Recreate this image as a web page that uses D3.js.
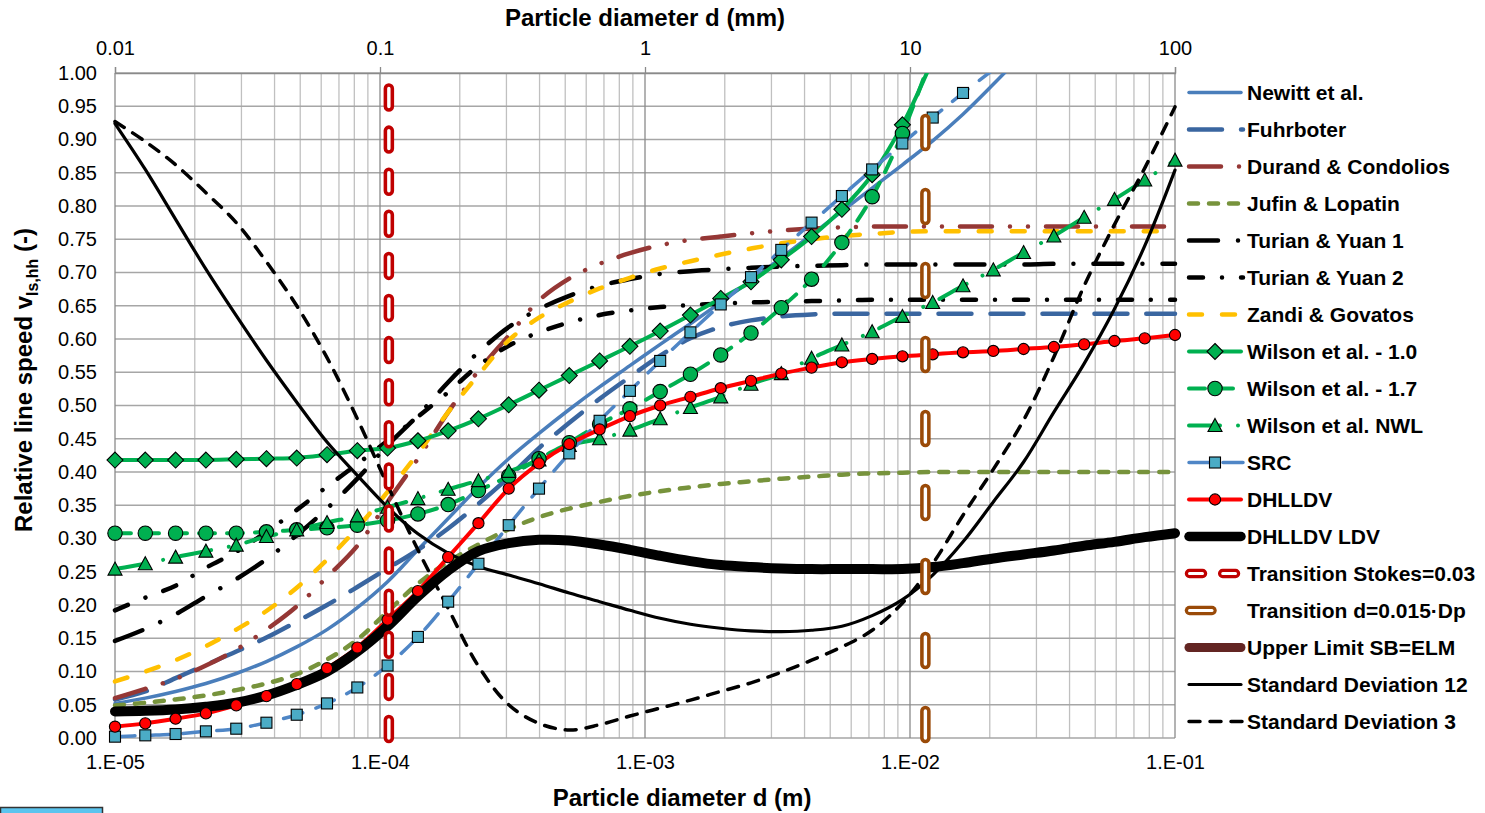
<!DOCTYPE html>
<html>
<head>
<meta charset="utf-8">
<script src="https://cdn.jsdelivr.net/npm/d3@7/dist/d3.min.js"></script>
<style>
html,body{margin:0;padding:0;background:#fff;}
svg{display:block;}
text{font-family:"Liberation Sans",Arial,Helvetica,sans-serif;}
</style>
</head>
<body>
<svg id="chart" width="1485" height="813"></svg>
<script>
// ---------------- DATA ----------------
const diameters = [1.000e-5, 1.301e-5, 1.693e-5, 2.203e-5, 2.868e-5, 3.728e-5, 4.851e-5, 6.310e-5, 8.211e-5,
  1.068e-4, 1.390e-4, 1.808e-4, 2.352e-4, 3.060e-4, 3.981e-4, 5.179e-4, 6.740e-4, 8.770e-4,
  1.141e-3, 1.484e-3, 1.931e-3, 2.512e-3, 3.268e-3, 4.252e-3, 5.533e-3, 7.197e-3, 9.363e-3,
  1.218e-2, 1.585e-2, 2.062e-2, 2.683e-2, 3.491e-2, 4.541e-2, 5.909e-2, 7.687e-2, 1.000e-1];

const newitt = [0.052, 0.060, 0.070, 0.082, 0.097, 0.115, 0.137, 0.163, 0.196, 0.235, 0.283, 0.330, 0.377, 0.420, 0.458, 0.494, 0.528, 0.560, 0.592, 0.623, 0.655, 0.688, 0.722, 0.757, 0.792, 0.827, 0.862, 0.898, 0.938, 0.983, 1.030];
const fuhrboter = [0.058, 0.070, 0.090, 0.110, 0.130, 0.151, 0.175, 0.200, 0.227, 0.255, 0.283, 0.315, 0.352, 0.392, 0.436, 0.474, 0.510, 0.543, 0.575, 0.601, 0.618, 0.628, 0.634, 0.637, 0.638, 0.638, 0.638, 0.638, 0.638, 0.638, 0.638, 0.638, 0.638, 0.638, 0.638, 0.638];
const durand = [0.060, 0.074, 0.089, 0.109, 0.133, 0.163, 0.198, 0.242, 0.289, 0.355, 0.420, 0.490, 0.552, 0.605, 0.658, 0.691, 0.713, 0.729, 0.741, 0.749, 0.754, 0.759, 0.763, 0.766, 0.768, 0.769, 0.769, 0.769, 0.769, 0.769, 0.769, 0.769, 0.769, 0.769, 0.769, 0.769];
const jufin = [0.049, 0.053, 0.058, 0.064, 0.072, 0.082, 0.096, 0.118, 0.148, 0.190, 0.232, 0.265, 0.291, 0.314, 0.332, 0.345, 0.355, 0.364, 0.371, 0.377, 0.382, 0.386, 0.390, 0.393, 0.396, 0.398, 0.399, 0.400, 0.400, 0.400, 0.400, 0.400, 0.400, 0.400, 0.400, 0.400];
const turian1 = [0.146, 0.164, 0.186, 0.213, 0.239, 0.269, 0.305, 0.345, 0.390, 0.440, 0.485, 0.535, 0.580, 0.618, 0.645, 0.665, 0.680, 0.690, 0.698, 0.702, 0.705, 0.707, 0.709, 0.710, 0.711, 0.712, 0.712, 0.712, 0.712, 0.712, 0.712, 0.713, 0.713, 0.713, 0.713, 0.713];
const turian2 = [0.192, 0.211, 0.229, 0.256, 0.280, 0.310, 0.343, 0.378, 0.412, 0.447, 0.483, 0.520, 0.560, 0.590, 0.610, 0.625, 0.636, 0.643, 0.648, 0.651, 0.653, 0.655, 0.656, 0.657, 0.658, 0.659, 0.659, 0.659, 0.659, 0.659, 0.659, 0.659, 0.659, 0.659, 0.659, 0.659];
const zandi = [0.085, 0.100, 0.117, 0.138, 0.163, 0.191, 0.226, 0.268, 0.316, 0.370, 0.428, 0.490, 0.546, 0.598, 0.632, 0.656, 0.676, 0.692, 0.706, 0.717, 0.727, 0.736, 0.744, 0.750, 0.755, 0.758, 0.761, 0.762, 0.762, 0.762, 0.762, 0.762, 0.762, 0.762, 0.762, 0.762];
const wilson10 = [0.418, 0.418, 0.418, 0.418, 0.419, 0.420, 0.421, 0.426, 0.432, 0.436, 0.447, 0.462, 0.480, 0.501, 0.523, 0.545, 0.567, 0.589, 0.612, 0.636, 0.661, 0.686, 0.719, 0.754, 0.795, 0.847, 0.922, 1.020];
const wilson17 = [0.308, 0.308, 0.308, 0.308, 0.308, 0.310, 0.313, 0.316, 0.320, 0.327, 0.337, 0.351, 0.372, 0.394, 0.420, 0.444, 0.472, 0.495, 0.521, 0.547, 0.576, 0.609, 0.647, 0.690, 0.745, 0.814, 0.909, 1.030];
const wilsonNWL = [0.254, 0.262, 0.272, 0.281, 0.290, 0.303, 0.313, 0.324, 0.334, 0.347, 0.360, 0.374, 0.387, 0.401, 0.418, 0.440, 0.450, 0.463, 0.480, 0.497, 0.513, 0.532, 0.548, 0.571, 0.591, 0.611, 0.634, 0.655, 0.680, 0.704, 0.730, 0.755, 0.783, 0.810, 0.839, 0.869];
const src = [0.002, 0.004, 0.006, 0.010, 0.014, 0.023, 0.035, 0.052, 0.076, 0.109, 0.152, 0.205, 0.262, 0.320, 0.375, 0.428, 0.477, 0.522, 0.567, 0.610, 0.652, 0.693, 0.734, 0.775, 0.815, 0.855, 0.894, 0.933, 0.970, 1.005];
const dhlldv = [0.017, 0.022, 0.029, 0.037, 0.049, 0.063, 0.081, 0.105, 0.136, 0.178, 0.221, 0.272, 0.323, 0.375, 0.413, 0.442, 0.464, 0.484, 0.500, 0.513, 0.526, 0.537, 0.548, 0.557, 0.565, 0.570, 0.574, 0.577, 0.580, 0.582, 0.585, 0.588, 0.592, 0.597, 0.601, 0.606];
const dhlldvLDV = [0.040, 0.041, 0.043, 0.047, 0.053, 0.064, 0.080, 0.100, 0.130, 0.168, 0.213, 0.252, 0.281, 0.293, 0.298, 0.297, 0.291, 0.283, 0.274, 0.266, 0.260, 0.257, 0.255, 0.254, 0.254, 0.254, 0.254, 0.257, 0.263, 0.270, 0.276, 0.282, 0.289, 0.295, 0.302, 0.308];
const stdDev12 = [0.924, 0.855, 0.780, 0.705, 0.635, 0.568, 0.505, 0.445, 0.395, 0.347, 0.307, 0.278, 0.258, 0.245, 0.232, 0.218, 0.205, 0.192, 0.180, 0.171, 0.165, 0.161, 0.160, 0.162, 0.168, 0.184, 0.208, 0.245, 0.295, 0.355, 0.415, 0.490, 0.563, 0.645, 0.740, 0.854];
const stdDev3 = [0.927, 0.897, 0.862, 0.820, 0.775, 0.716, 0.650, 0.572, 0.480, 0.380, 0.283, 0.195, 0.108, 0.050, 0.022, 0.012, 0.020, 0.033, 0.045, 0.057, 0.070, 0.083, 0.099, 0.117, 0.137, 0.162, 0.203, 0.262, 0.335, 0.404, 0.478, 0.573, 0.680, 0.772, 0.857, 0.949];
const transitionStokes = 1.08e-4;   // m
const transitionDp = 1.143e-2;      // m  (0.015*Dp)

const yTicks = [0.00, 0.05, 0.10, 0.15, 0.20, 0.25, 0.30, 0.35, 0.40, 0.45, 0.50, 0.55, 0.60, 0.65, 0.70, 0.75, 0.80, 0.85, 0.90, 0.95, 1.00];
const bottomTicks = [1e-5, 1e-4, 1e-3, 1e-2, 1e-1];
const bottomLabels = ["1.E-05", "1.E-04", "1.E-03", "1.E-02", "1.E-01"];
const topTicks = [0.01, 0.1, 1, 10, 100];
const topLabels = ["0.01", "0.1", "1", "10", "100"];

// ---------------- SETUP ----------------
const svg = d3.select("#chart");
const L = 115, R = 1175, T = 73, B = 738;
const x = d3.scaleLog().domain([1e-5, 1e-1]).range([L, R]);
const xTop = d3.scaleLog().domain([0.01, 100]).range([L, R]);
const y = d3.scaleLinear().domain([0, 1]).range([B, T]);

svg.append("rect").attr("width", 1485).attr("height", 813).attr("fill", "#fff");

const defs = svg.append("defs");
defs.append("clipPath").attr("id", "plotclip").append("rect")
  .attr("x", L - 6).attr("y", T).attr("width", R - L + 12).attr("height", B - T + 8);

// grid
const gridG = svg.append("g");
const minorX = [];
for (let e = -5; e <= -2; e++) for (let k = 2; k <= 9; k++) minorX.push(k * Math.pow(10, e));
gridG.selectAll(".vminor").data(minorX).enter().append("line")
  .attr("x1", d => x(d)).attr("x2", d => x(d)).attr("y1", T).attr("y2", B)
  .attr("stroke", "#C0C0C0").attr("stroke-width", 1.3);
gridG.selectAll(".hgrid").data(yTicks).enter().append("line")
  .attr("x1", L).attr("x2", R).attr("y1", d => y(d)).attr("y2", d => y(d))
  .attr("stroke", "#A6A6A6").attr("stroke-width", 1.3);
gridG.selectAll(".vmajor").data(bottomTicks).enter().append("line")
  .attr("x1", d => x(d)).attr("x2", d => x(d)).attr("y1", T).attr("y2", B)
  .attr("stroke", "#8A8A8A").attr("stroke-width", 1.3);

// axes
const yAxis = svg.append("g").attr("transform", `translate(${L},0)`)
  .call(d3.axisLeft(y).tickValues(yTicks).tickFormat(d3.format(".2f")).tickSize(0).tickPadding(18));
yAxis.select(".domain").remove();
yAxis.selectAll("text").attr("font-size", 20).attr("fill", "#000");

const bAxis = svg.append("g").attr("transform", `translate(0,${B})`)
  .call(d3.axisBottom(x).tickValues(bottomTicks).tickFormat((d, i) => bottomLabels[i]).tickSize(0).tickPadding(17));
bAxis.select(".domain").remove();
bAxis.selectAll("text").attr("font-size", 20).attr("fill", "#000");

const tAxis = svg.append("g").attr("transform", `translate(0,${T})`)
  .call(d3.axisTop(xTop).tickValues(topTicks).tickFormat((d, i) => topLabels[i]).tickSize(6).tickPadding(12));
tAxis.select(".domain").attr("stroke", "#8A8A8A").attr("stroke-width", 1.3);
tAxis.selectAll("line").attr("stroke", "#8A8A8A").attr("stroke-width", 1.3);
tAxis.selectAll("text").attr("font-size", 20).attr("fill", "#000");

// titles
svg.append("text").attr("x", 645).attr("y", 26).attr("text-anchor", "middle")
  .attr("font-size", 24).attr("font-weight", "bold").text("Particle diameter d (mm)");
svg.append("text").attr("x", 682).attr("y", 806).attr("text-anchor", "middle")
  .attr("font-size", 24).attr("font-weight", "bold").text("Particle diameter d (m)");
const yt = svg.append("text").attr("transform", "translate(32,380) rotate(-90)")
  .attr("text-anchor", "middle").attr("font-size", 24).attr("font-weight", "bold");
yt.append("tspan").text("Relative line speed v");
yt.append("tspan").attr("font-size", 16).attr("dy", 6).text("ls,hh");
yt.append("tspan").attr("dy", -6).text(" (-)");

// ---------------- SERIES ----------------
const GREEN = "#00B050";
const series = [
  {name: "Newitt et al.", vals: newitt, color: "#4A7EBB", w: 3.5, dash: null},
  {name: "Fuhrboter", vals: fuhrboter, color: "#3A66A0", w: 4.5, dash: "33,19"},
  {name: "Durand & Condolios", vals: durand, color: "#953735", w: 4.5, dash: "32,18,0.01,18,0.01,18"},
  {name: "Jufin & Lopatin", vals: jufin, color: "#77933C", w: 4.5, dash: "9,11"},
  {name: "Turian & Yuan 1", vals: turian1, color: "#000", w: 4.5, dash: "29,20,0.01,20"},
  {name: "Turian & Yuan 2", vals: turian2, color: "#000", w: 4.5, dash: "14,19,0.01,19"},
  {name: "Zandi & Govatos", vals: zandi, color: "#FFC000", w: 4.5, dash: "13,20"},
  {name: "Wilson et al. - 1.0", vals: wilson10, color: GREEN, w: 4, dash: null, marker: "diamond", mfill: GREEN},
  {name: "Wilson et al. - 1.7", vals: wilson17, color: GREEN, w: 4, dash: "16,12", marker: "circle", mfill: GREEN},
  {name: "Wilson et al. NWL", vals: wilsonNWL, color: GREEN, w: 4, dash: "31,18,0.01,18", marker: "triangle", mfill: GREEN},
  {name: "SRC", vals: src, color: "#4F86C6", w: 3.5, dash: "20,14", marker: "square", mfill: "#4BACC6"},
  {name: "DHLLDV", vals: dhlldv, color: "#FF0000", w: 4, dash: null, marker: "dot", mfill: "#FF0000"},
  {name: "DHLLDV LDV", vals: dhlldvLDV, color: "#000", w: 10, dash: null}
];

const line = d3.line().x(d => x(d[0])).y(d => y(d[1])).curve(d3.curveCatmullRom.alpha(0.5));
const plotG = svg.append("g").attr("clip-path", "url(#plotclip)");

function drawMarker(g, type, cx, cy, fill) {
  let el;
  if (type === "diamond") {
    el = g.append("path").attr("d", `M${cx},${cy - 8}L${cx + 8},${cy}L${cx},${cy + 8}L${cx - 8},${cy}Z`);
  } else if (type === "circle") {
    el = g.append("circle").attr("cx", cx).attr("cy", cy).attr("r", 7.2);
  } else if (type === "triangle") {
    el = g.append("path").attr("d", `M${cx},${cy - 7}L${cx + 7},${cy + 6}L${cx - 7},${cy + 6}Z`);
  } else if (type === "square") {
    el = g.append("rect").attr("x", cx - 5.5).attr("y", cy - 5.5).attr("width", 11).attr("height", 11);
  } else if (type === "dot") {
    el = g.append("circle").attr("cx", cx).attr("cy", cy).attr("r", 5.6);
  }
  el.attr("fill", fill).attr("stroke", "#000").attr("stroke-width", 1.1);
}

function drawSeries(s) {
  const pts = s.vals.map((v, i) => [diameters[i], v]);
  const p = plotG.append("path").attr("d", line(pts)).attr("fill", "none")
    .attr("stroke", s.color).attr("stroke-width", s.w)
    .attr("stroke-linecap", "round").attr("stroke-linejoin", "round");
  if (s.dash) p.attr("stroke-dasharray", s.dash);
  if (s.marker) {
    const mg = svg.append("g");
    pts.filter(d => d[1] <= 1.0).forEach(d => drawMarker(mg, s.marker, x(d[0]), y(d[1]), s.mfill));
  }
}
series.forEach(drawSeries);

// transition lines (double line style)
function drawTransition(d, color, dash) {
  const g = svg.append("g");
  g.append("line").attr("x1", x(d)).attr("x2", x(d)).attr("y1", y(0)).attr("y2", y(1))
    .attr("stroke", color).attr("stroke-width", 10.5).attr("stroke-linecap", "round").attr("stroke-dasharray", dash);
  g.append("line").attr("x1", x(d)).attr("x2", x(d)).attr("y1", y(0)).attr("y2", y(1))
    .attr("stroke", "#fff").attr("stroke-width", 3.4).attr("stroke-linecap", "round").attr("stroke-dasharray", dash);
}
drawTransition(transitionStokes, "#C00000", "18,24.1");
drawTransition(transitionDp, "#9A4A08", "27,47");

// standard deviations
[{vals: stdDev12, w: 3.2, dash: null}, {vals: stdDev3, w: 3.5, dash: "11,10"}].forEach(s => {
  const pts = s.vals.map((v, i) => [diameters[i], v]);
  const p = plotG.append("path").attr("d", line(pts)).attr("fill", "none")
    .attr("stroke", "#000").attr("stroke-width", s.w).attr("stroke-linecap", "round");
  if (s.dash) p.attr("stroke-dasharray", s.dash);
});

// ---------------- LEGEND ----------------
const legendItems = [
  ...series.map(s => ({name: s.name, kind: "line", color: s.color, w: s.w, dash: s.dash, marker: s.marker, mfill: s.mfill})),
  {name: "Transition Stokes=0.03", kind: "trans", color: "#C00000", dash: "13,20.2", x2: 1235.5},
  {name: "Transition d=0.015\u00B7Dp", kind: "trans", color: "#9A4A08", dash: null, x2: 1212},
  {name: "Upper Limit SB=ELM", kind: "line", color: "#632523", w: 9, dash: null},
  {name: "Standard Deviation 12", kind: "line", color: "#000", w: 3.2, dash: null},
  {name: "Standard Deviation 3", kind: "line", color: "#000", w: 3.5, dash: "11,10"}
];
const lg = svg.append("g");
legendItems.forEach((it, i) => {
  const cy = 92.5 + i * 37;
  if (it.kind === "line") {
    const ln = lg.append("line").attr("x1", 1189).attr("x2", it.dash ? 1243 : 1241).attr("y1", cy).attr("y2", cy)
      .attr("stroke", it.color).attr("stroke-width", Math.min(it.w, 9.5)).attr("stroke-linecap", "round");
    if (it.dash) ln.attr("stroke-dasharray", it.dash);
    if (it.marker) drawMarker(lg, it.marker, 1215, cy, it.mfill);
  } else {
    const a = lg.append("line").attr("x1", 1189.5).attr("x2", it.x2).attr("y1", cy).attr("y2", cy)
      .attr("stroke", it.color).attr("stroke-width", 9.5).attr("stroke-linecap", "round");
    const b = lg.append("line").attr("x1", 1189.5).attr("x2", it.x2).attr("y1", cy).attr("y2", cy)
      .attr("stroke", "#fff").attr("stroke-width", 3).attr("stroke-linecap", "round");
    if (it.dash) { a.attr("stroke-dasharray", it.dash); b.attr("stroke-dasharray", it.dash); }
  }
  lg.append("text").attr("x", 1247).attr("y", cy).attr("dy", "0.35em")
    .attr("font-size", 21).attr("font-weight", "bold").attr("fill", "#000").text(it.name);
});

// small artifact bottom-left
svg.append("rect").attr("x", 0.5).attr("y", 807.5).attr("width", 102).attr("height", 8)
  .attr("fill", "#5BC4EE").attr("stroke", "#333").attr("stroke-width", 1.5);
</script>
</body>
</html>
